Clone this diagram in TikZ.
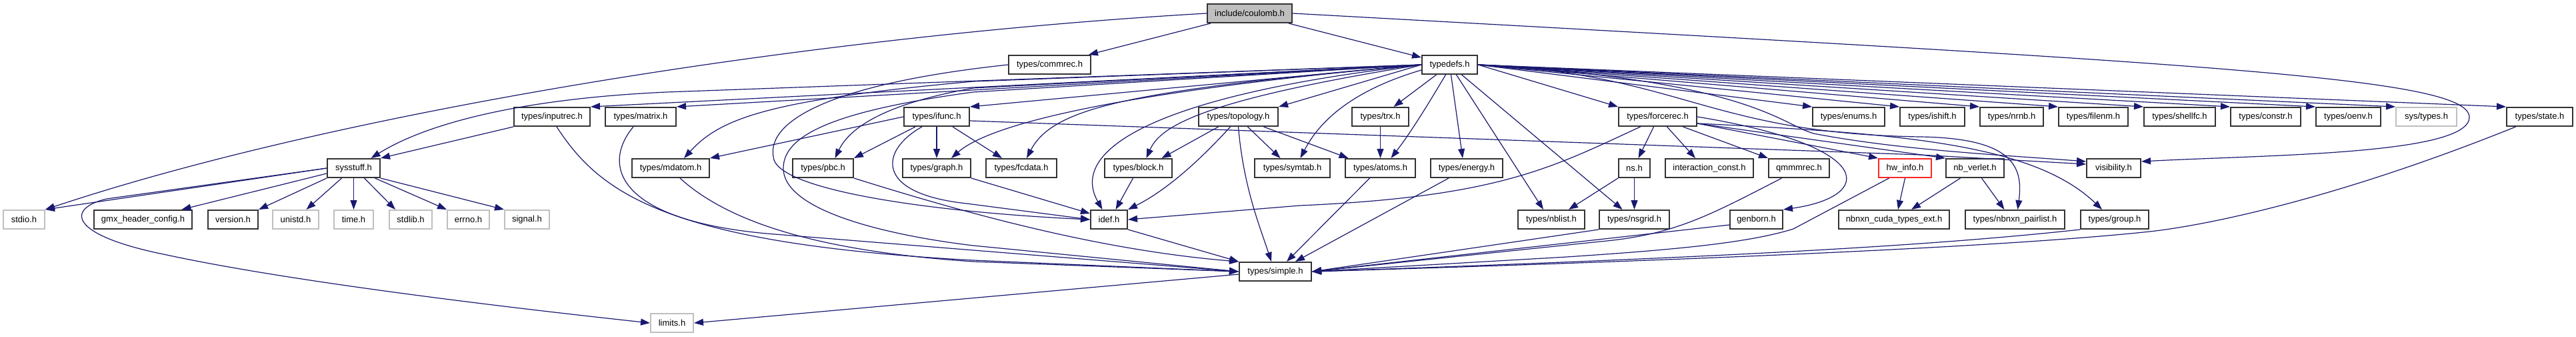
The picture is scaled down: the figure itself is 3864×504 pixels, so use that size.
\documentclass[tikz,border=0pt]{standalone}
\usepackage{fontspec}
\setmainfont{Liberation Sans}
\usetikzlibrary{arrows.meta}
\definecolor{midnightblue}{HTML}{191970}

\begin{document}
\begin{tikzpicture}[x=0.5pt,y=-0.5pt,
  hdr/.style={draw=black!80,fill=white,line width=1pt,minimum height=14pt,inner sep=0pt,font=\fontsize{6.5}{8}\selectfont},
  syshdr/.style={hdr,draw=black!25},
  roothdr/.style={hdr,fill=black!25},
  cuthdr/.style={hdr,draw=red!85},
  inc/.style={draw=midnightblue,line width=0.6pt,-{Triangle[length=7pt,width=5pt]}}]
  % include graph of coulomb.h, one row per depth
  \useasboundingbox (0,0) rectangle (3864,504);
  \node[roothdr,minimum width=63.5pt] (coulomb) at (1874.5,20) {include/coulomb.h};
  \node[hdr,minimum width=61.5pt] (commrec) at (1574.5,97) {types/commrec.h};
  \node[hdr,minimum width=41.5pt] (typedefs) at (2174.5,97) {typedefs.h};
  \node[hdr,minimum width=57pt] (inputrec) at (828,175) {types/inputrec.h};
  \node[hdr,minimum width=53pt] (matrix) at (961,175) {types/matrix.h};
  \node[hdr,minimum width=49pt] (ifunc) at (1405,175) {types/ifunc.h};
  \node[hdr,minimum width=59.5pt] (topology) at (1857.5,175) {types/topology.h};
  \node[hdr,minimum width=42.5pt] (trx) at (2070.5,175) {types/trx.h};
  \node[hdr,minimum width=58.5pt] (forcerec) at (2486.5,175) {types/forcerec.h};
  \node[hdr,minimum width=54pt] (enums) at (2773,175) {types/enums.h};
  \node[hdr,minimum width=48.5pt] (ishift) at (2898.5,175) {types/ishift.h};
  \node[hdr,minimum width=47.5pt] (nrnb) at (3017.5,175) {types/nrnb.h};
  \node[hdr,minimum width=52pt] (filenm) at (3140,175) {types/filenm.h};
  \node[hdr,minimum width=53.5pt] (shellfc) at (3269.5,175) {types/shellfc.h};
  \node[hdr,minimum width=52.5pt] (constr) at (3398.5,175) {types/constr.h};
  \node[hdr,minimum width=48.5pt] (oenv) at (3522.5,175) {types/oenv.h};
  \node[syshdr,minimum width=45.5pt] (systypes) at (3639.5,175) {sys/types.h};
  \node[hdr,minimum width=49.5pt] (state) at (3809.5,175) {types/state.h};
  \node[hdr,minimum width=39.5pt] (sysstuff) at (530.5,252) {sysstuff.h};
  \node[hdr,minimum width=58pt] (mdatom) at (1006,252) {types/mdatom.h};
  \node[hdr,minimum width=45.5pt] (pbc) at (1234.5,252) {types/pbc.h};
  \node[hdr,minimum width=51pt] (graph) at (1405,252) {types/graph.h};
  \node[hdr,minimum width=53pt] (fcdata) at (1532,252) {types/fcdata.h};
  \node[hdr,minimum width=50.5pt] (block) at (1707.5,252) {types/block.h};
  \node[hdr,minimum width=56.5pt] (symtab) at (1938.5,252) {types/symtab.h};
  \node[hdr,minimum width=52.5pt] (atoms) at (2070.5,252) {types/atoms.h};
  \node[hdr,minimum width=54pt] (energy) at (2200,252) {types/energy.h};
  \node[hdr,minimum width=23.5pt] (ns) at (2451.5,252) {ns.h};
  \node[hdr,minimum width=66pt] (iconst) at (2564,252) {interaction\_const.h};
  \node[hdr,minimum width=45.5pt] (qmmmrec) at (2698.5,252) {qmmmrec.h};
  \node[cuthdr,minimum width=39.5pt] (hwinfo) at (2857.5,252) {hw\_info.h};
  \node[hdr,minimum width=43.5pt] (nbverlet) at (2962.5,252) {nb\_verlet.h};
  \node[hdr,minimum width=40.5pt] (visibility) at (3170.5,252) {visibility.h};
  \node[syshdr,minimum width=31pt] (stdio) at (36,329) {stdio.h};
  \node[hdr,minimum width=73.5pt] (gmxconfig) at (214.5,329) {gmx\_header\_config.h};
  \node[hdr,minimum width=37.5pt] (version) at (349.5,329) {version.h};
  \node[syshdr,minimum width=34.5pt] (unistd) at (443.5,329) {unistd.h};
  \node[syshdr,minimum width=29.5pt] (time) at (530.5,329) {time.h};
  \node[syshdr,minimum width=32pt] (stdlib) at (616,329) {stdlib.h};
  \node[syshdr,minimum width=31.5pt] (errno) at (702.5,329) {errno.h};
  \node[syshdr,minimum width=33.5pt] (signal) at (790.5,329) {signal.h};
  \node[hdr,minimum width=27.5pt] (idef) at (1663.5,329) {idef.h};
  \node[hdr,minimum width=50pt] (nblist) at (2327,329) {types/nblist.h};
  \node[hdr,minimum width=52.5pt] (nsgrid) at (2451.5,329) {types/nsgrid.h};
  \node[hdr,minimum width=39.5pt] (genborn) at (2634.5,329) {genborn.h};
  \node[hdr,minimum width=83pt] (cudaext) at (2841,329) {nbnxn\_cuda\_types\_ext.h};
  \node[hdr,minimum width=74.5pt] (pairlist) at (3022.5,329) {types/nbnxn\_pairlist.h};
  \node[hdr,minimum width=51pt] (group) at (3172,329) {types/group.h};
  \node[hdr,minimum width=54pt] (simple) at (1913,407) {types/simple.h};
  \node[syshdr,minimum width=32pt] (limits) at (1008,484) {limits.h};
  % coulomb.h and commrec.h
  \draw[inc] (coulomb.west) .. controls (1200,55) and (500,170) .. (stdio.north east);
  \draw[inc] (coulomb) -- (commrec);
  \draw[inc] (coulomb) -- (typedefs);
  \draw[inc] (coulomb.east) .. controls (3300,95) and (3700,115) .. (3704,175) .. controls (3706,232) and (3400,232) .. ([yshift=5pt]visibility.east);
  \draw[inc] (commrec.west) .. controls (1250,125) and (1150,180) .. (1160,235) .. controls (1163,285) and (1400,318) .. (idef.west);
  % typedefs.h, to the left
  \draw[inc] (typedefs.west) -- (1000,138) .. controls (780,148) and (640,185) .. ([xshift=13pt]sysstuff.north);
  \draw[inc] (typedefs.west) -- (inputrec.north east);
  \draw[inc] (typedefs.west) -- (matrix.north east);
  \draw[inc] (typedefs.west) -- (1460,122) .. controls (1150,150) and (1080,178) .. ([xshift=10pt]mdatom.north);
  \draw[inc] (typedefs.west) -- (1460,132) .. controls (1330,155) and (1275,190) .. ([xshift=9pt]pbc.north);
  \draw[inc] (typedefs.west) -- (1460,138) .. controls (1260,165) and (1175,200) .. (1175,252) .. controls (1175,320) and (1350,355) .. (1460,368) -- (simple.west);
  \draw[inc] (typedefs.west) -- (ifunc.north east);
  \draw[inc] (typedefs.west) .. controls (1650,140) and (1480,190) .. ([xshift=11pt]graph.north);
  \draw[inc] (typedefs.west) .. controls (1700,135) and (1580,160) .. ([xshift=4pt]fcdata.north);
  \draw[inc] (typedefs.west) .. controls (1750,140) and (1600,220) .. ([xshift=-5pt]idef.north);
  \draw[inc] (typedefs.west) .. controls (1800,150) and (1740,190) .. ([xshift=6pt]block.north);
  \draw[inc] (typedefs.west) -- (topology.north east);
  \draw[inc] ([yshift=-4pt]typedefs.west) .. controls (2030,135) and (1980,180) .. ([xshift=6pt]symtab.north);
  % typedefs.h, downwards
  \draw[inc] (typedefs) -- (trx);
  \draw[inc] ([xshift=-3pt]typedefs.south) .. controls (2140,160) and (2115,200) .. ([xshift=8pt]atoms.north);
  \draw[inc] ([xshift=1pt]typedefs.south) -- ([xshift=-3pt]energy.north);
  \draw[inc] ([xshift=5pt]typedefs.south) -- ([xshift=-6pt]nblist.north);
  \draw[inc] ([xshift=9pt]typedefs.south) -- ([xshift=-9pt]nsgrid.north);
  % typedefs.h, to the right
  \draw[inc] (typedefs.east) -- (forcerec.north west);
  \draw[inc] (typedefs.east) -- (enums.north west);
  \draw[inc] (typedefs.east) -- (ishift.north west);
  \draw[inc] (typedefs.east) -- (nrnb.north west);
  \draw[inc] (typedefs.east) -- (filenm.north west);
  \draw[inc] (typedefs.east) -- (shellfc.north west);
  \draw[inc] (typedefs.east) -- (constr.north west);
  \draw[inc] (typedefs.east) -- (oenv.north west);
  \draw[inc] (typedefs.east) -- (systypes.north west);
  \draw[inc] (typedefs.east) -- (state.north west);
  \draw[inc] (typedefs.east) .. controls (2520,110) and (2560,200) .. (2880,205) .. controls (3020,207) and (3035,250) .. ([xshift=2pt]pairlist.north);
  \draw[inc] (typedefs.east) .. controls (2620,120) and (2670,185) .. (2720,200) .. controls (2850,225) and (3000,232) .. ([yshift=5pt]visibility.west);
  % second level
  \draw[inc] (inputrec.south west) -- (sysstuff.north east);
  \draw[inc] ([xshift=3.5pt]inputrec.south) .. controls (900,290) and (1000,365) .. (1460,390) -- (simple.west);
  \draw[inc] ([xshift=-5.5pt]matrix.south) .. controls (900,250) and (930,330) .. (1150,350) -- (simple.west);
  \draw[inc] ([xshift=7pt]mdatom.south) .. controls (1100,340) and (1250,378) .. (1460,392) -- (simple.west);
  \draw[inc] ([xshift=-16pt]ifunc.south) -- (pbc.north east);
  \draw[inc] (ifunc) -- (graph);
  \draw[inc] ([xshift=12pt]ifunc.south) -- ([xshift=-14.5pt]fcdata.north);
  \draw[inc] (ifunc.west) -- (mdatom.north east);
  \draw[inc] ([xshift=-11pt]ifunc.south) .. controls (1320,225) and (1310,290) .. (1450,305) -- (idef.west);
  \draw[inc] ([yshift=-3pt]ifunc.east) -- (2880,232) -- ([yshift=3pt]visibility.west);
  \draw[inc] (graph.south east) -- ([yshift=4.5pt]idef.west);
  \draw[inc] (pbc.south east) .. controls (1450,320) and (1650,375) .. (simple.north west);
  \draw[inc] ([xshift=-15pt]topology.south) -- ([xshift=17.5pt]block.north);
  \draw[inc] ([xshift=-6pt]topology.south) .. controls (1800,240) and (1750,285) .. (idef.north east);
  \draw[inc] (topology.south) .. controls (1865,280) and (1890,340) .. ([xshift=-3pt]simple.north);
  \draw[inc] ([xshift=7pt]topology.south) -- ([xshift=-9pt]symtab.north);
  \draw[inc] ([xshift=19pt]topology.south) -- ([xshift=-24pt]atoms.north);
  \draw[inc] (trx) -- (atoms);
  \draw[inc] ([xshift=-4pt]block.south) -- ([xshift=5pt]idef.north);
  \draw[inc] (idef.south east) -- (simple.north west);
  \draw[inc] ([xshift=-8pt]atoms.south) -- ([xshift=8.5pt]simple.north);
  \draw[inc] ([xshift=-13.5pt]energy.south) -- ([xshift=15pt]simple.north);
  % forcerec.h and below
  \draw[inc] ([xshift=-13pt]forcerec.south) .. controls (2330,250) and (2250,295) .. (1950,308) -- (idef.east);
  \draw[inc] ([xshift=-3pt]forcerec.south) -- ([xshift=3pt]ns.north);
  \draw[inc] ([xshift=7pt]forcerec.south) -- ([xshift=-10.5pt]iconst.north);
  \draw[inc] ([xshift=19pt]forcerec.south) -- (qmmmrec.north west);
  \draw[inc] (forcerec.east) .. controls (2820,220) and (2810,295) .. (genborn.north east);
  \draw[inc] ([yshift=-5pt]forcerec.east) -- (hwinfo.north west);
  \draw[inc] ([yshift=-5pt]forcerec.east) -- (nbverlet.north west);
  \draw[inc] ([yshift=-5pt]forcerec.east) .. controls (2850,200) and (3050,215) .. ([xshift=-9.5pt]group.north);
  \draw[inc] (ns) -- (nsgrid);
  \draw[inc] (ns.south west) -- ([xshift=13pt]nblist.north);
  \draw[inc] (hwinfo.south) -- ([xshift=3pt]cudaext.north);
  \draw[inc] ([xshift=-11pt]nbverlet.south) -- ([xshift=13pt]cudaext.north);
  \draw[inc] ([xshift=5pt]nbverlet.south) -- ([xshift=-8pt]pairlist.north);
  % into types/simple.h from the right
  \draw[inc] (nsgrid.south west) -- (simple.east);
  \draw[inc] ([yshift=-4pt]genborn.west) -- (simple.east);
  \draw[inc] ([xshift=-13pt]qmmmrec.south) .. controls (2560,325) and (2510,352) .. (2400,362) -- (simple.east);
  \draw[inc] ([xshift=-12pt]hwinfo.south) -- (2690,343) .. controls (2620,365) and (2500,375) .. (2350,385) -- (simple.east);
  \draw[inc] (group.south west) .. controls (2900,368) and (2600,385) .. (simple.east);
  \draw[inc] ([xshift=-18pt]state.south) .. controls (3500,300) and (3300,340) .. (3215,348) .. controls (3050,365) and (2700,385) .. (simple.east);
  % sysstuff.h
  \draw[inc] (sysstuff.west) -- (stdio.north east);
  \draw[inc] (sysstuff.west) -- (160,298) .. controls (100,312) and (100,352) .. (250,382) .. controls (450,425) and (800,465) .. (limits.west);
  \draw[inc] ([yshift=-4pt]sysstuff.west) -- ([xshift=29pt]gmxconfig.north);
  \draw[inc] (sysstuff.south west) -- (version.north east);
  \draw[inc] ([xshift=-9pt]sysstuff.south) -- ([xshift=8pt]unistd.north);
  \draw[inc] (sysstuff) -- (time);
  \draw[inc] ([xshift=8pt]sysstuff.south) -- ([xshift=-11.5pt]stdlib.north);
  \draw[inc] ([xshift=16pt]sysstuff.south) -- (errno.north west);
  \draw[inc] (sysstuff.south east) -- (signal.north west);
  \draw[inc] ([yshift=-2pt]simple.west) -- (limits.east);
\end{tikzpicture}
\end{document}
